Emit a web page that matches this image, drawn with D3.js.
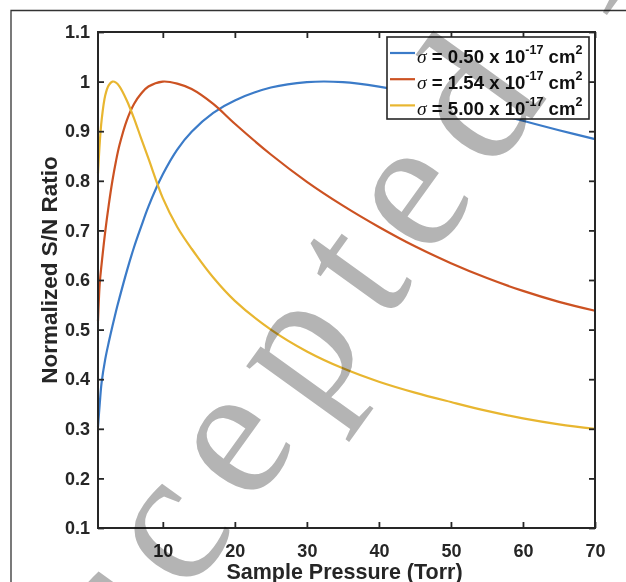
<!DOCTYPE html>
<html>
<head>
<meta charset="utf-8">
<script src="https://cdn.jsdelivr.net/npm/d3@7"></script>
<style>
  body { margin: 0; background: #fff; }
  svg { display: block; }
  .tick text { font-family: "Liberation Sans", Arial, sans-serif; font-weight: bold; font-size: 18px; fill: #262626; }
</style>
</head>
<body>
<div class="chart"></div>
<script>
// values
const pressure = [1, 1.25, 1.5, 2, 2.5, 3, 3.5, 4, 5, 6, 7, 8, 10, 12, 14, 17, 20, 25, 30, 35, 40, 45, 50, 55, 60, 65, 70];
const snSigma050 = [0.304, 0.352, 0.393, 0.44, 0.475, 0.507, 0.537, 0.565, 0.618, 0.666, 0.708, 0.748, 0.813, 0.863, 0.899, 0.937, 0.962, 0.988, 0.999, 0.999, 0.99, 0.976, 0.959, 0.94, 0.921, 0.902, 0.884];
const snSigma154 = [0.517, 0.595, 0.632, 0.697, 0.752, 0.80, 0.84, 0.873, 0.922, 0.955, 0.976, 0.99, 1.0, 0.996, 0.985, 0.955, 0.915, 0.853, 0.798, 0.75, 0.707, 0.668, 0.634, 0.604, 0.578, 0.556, 0.538];
const snSigma500 = [0.815, 0.878, 0.922, 0.972, 0.993, 1.0, 0.998, 0.99, 0.962, 0.926, 0.885, 0.845, 0.765, 0.707, 0.663, 0.605, 0.558, 0.50, 0.456, 0.422, 0.395, 0.373, 0.354, 0.336, 0.321, 0.309, 0.30];
const sigmaLabels = ["0.50", "1.54", "5.00"];
const xTicks = [10, 20, 30, 40, 50, 60, 70];
const yTicks = [0.1, 0.2, 0.3, 0.4, 0.5, 0.6, 0.7, 0.8, 0.9, 1, 1.1];

const colors = ["#3b7bc8", "#cc5222", "#e8b630"];
const series = [snSigma050, snSigma154, snSigma500].map((vals, k) => ({
    label: sigmaLabels[k],
    color: colors[k],
    points: pressure.map((p, i) => ({p: p, v: vals[i]}))
}));

const W = 626, H = 582;
const plot = {left: 98, top: 32, right: 595, bottom: 528};
const ink = "#262626";

const svg = d3.select(".chart").append("svg")
    .attr("width", W)
    .attr("height", H);

svg.append("rect").attr("width", W).attr("height", H).attr("fill", "#fff");

// outer page frame (only top and left visible)
svg.append("path")
    .attr("d", `M11,${H + 5}V10.5H${W + 5}`)
    .attr("fill", "none")
    .attr("stroke", "#333")
    .attr("stroke-width", 1.3);

const xScale = d3.scaleLinear().domain([1, 70]).range([plot.left, plot.right]);
const yScale = d3.scaleLinear().domain([0.1, 1.1]).range([plot.bottom, plot.top]);

const line = d3.line()
    .x(d => xScale(d.p))
    .y(d => yScale(d.v))
    .curve(d3.curveCatmullRom.alpha(0.5));

svg.append("g")
    .selectAll("path")
    .data(series)
    .join("path")
    .attr("fill", "none")
    .attr("stroke", d => d.color)
    .attr("stroke-width", 2.2)
    .attr("d", d => line(d.points));

// axes, ticks pointing inward on all four sides
function styleAxis(g) {
    g.select(".domain").remove();
    g.selectAll(".tick line").attr("stroke", ink).attr("stroke-width", 1.8);
}

svg.append("g")
    .attr("transform", `translate(0,${plot.bottom})`)
    .call(d3.axisBottom(xScale).tickValues(xTicks).tickFormat(d3.format("d")).tickSizeInner(-6).tickSizeOuter(0).tickPadding(16))
    .call(styleAxis);

svg.append("g")
    .attr("transform", `translate(0,${plot.top})`)
    .call(d3.axisTop(xScale).tickValues(xTicks).tickFormat("").tickSizeInner(-6).tickSizeOuter(0))
    .call(styleAxis);

svg.append("g")
    .attr("transform", `translate(${plot.left},0)`)
    .call(d3.axisLeft(yScale).tickValues(yTicks).tickFormat(d => d3.format("~g")(d)).tickSizeInner(-6).tickSizeOuter(0).tickPadding(8))
    .call(styleAxis);

svg.append("g")
    .attr("transform", `translate(${plot.right},0)`)
    .call(d3.axisRight(yScale).tickValues(yTicks).tickFormat("").tickSizeInner(-6).tickSizeOuter(0))
    .call(styleAxis);

svg.selectAll(".tick text").attr("fill", ink);

svg.append("rect")
    .attr("x", plot.left)
    .attr("y", plot.top)
    .attr("width", plot.right - plot.left)
    .attr("height", plot.bottom - plot.top)
    .attr("fill", "none")
    .attr("stroke", ink)
    .attr("stroke-width", 2);

// axis titles
svg.append("text")
    .attr("x", (plot.left + plot.right) / 2 - 2)
    .attr("y", 579)
    .attr("text-anchor", "middle")
    .attr("font-family", "Liberation Sans, Arial, sans-serif")
    .attr("font-weight", "bold")
    .attr("font-size", 21.5)
    .attr("fill", ink)
    .text("Sample Pressure (Torr)");

svg.append("text")
    .attr("transform", `translate(57,${(plot.top + plot.bottom) / 2 - 10}) rotate(-90)`)
    .attr("text-anchor", "middle")
    .attr("font-family", "Liberation Sans, Arial, sans-serif")
    .attr("font-weight", "bold")
    .attr("font-size", 22.5)
    .attr("fill", ink)
    .text("Normalized S/N Ratio");

// legend
const legend = svg.append("g");
legend.append("rect")
    .attr("x", 387).attr("y", 37)
    .attr("width", 202).attr("height", 82)
    .attr("fill", "#fff")
    .attr("stroke", ink)
    .attr("stroke-width", 1.6);

const rows = legend.selectAll("g.row")
    .data(series)
    .join("g")
    .attr("class", "row")
    .attr("transform", (d, i) => `translate(0,${53 + i * 26.2})`);

rows.append("line")
    .attr("x1", 390).attr("x2", 415)
    .attr("stroke", d => d.color)
    .attr("stroke-width", 2.2);

const lt = rows.append("text")
    .attr("x", 417)
    .attr("y", 10)
    .attr("font-family", "Liberation Sans, Arial, sans-serif")
    .attr("font-weight", "bold")
    .attr("font-size", 18.6)
    .attr("fill", "#111");
lt.append("tspan")
    .attr("font-family", "Liberation Serif, Times New Roman, serif")
    .attr("font-style", "italic")
    .attr("font-weight", "normal")
    .attr("font-size", 19.5)
    .text("σ");
lt.append("tspan").text(d => ` = ${d.label} x 10`);
lt.append("tspan").attr("dy", -9).attr("font-size", 12.5).text("-17");
lt.append("tspan").attr("dy", 9).text(" cm");
lt.append("tspan").attr("dy", -9).attr("font-size", 12.5).text("2");

// watermark on top, multiplied
svg.append("text")
    .attr("transform", "translate(30,815) rotate(-54.2)")
    .attr("font-family", "Liberation Serif, Times New Roman, serif")
    .attr("font-size", 190)
    .attr("letter-spacing", 24)
    .attr("fill", "#b4b4b4")
    .style("mix-blend-mode", "multiply")
    .text("Accepted Manuscript");
</script>
</body>
</html>
